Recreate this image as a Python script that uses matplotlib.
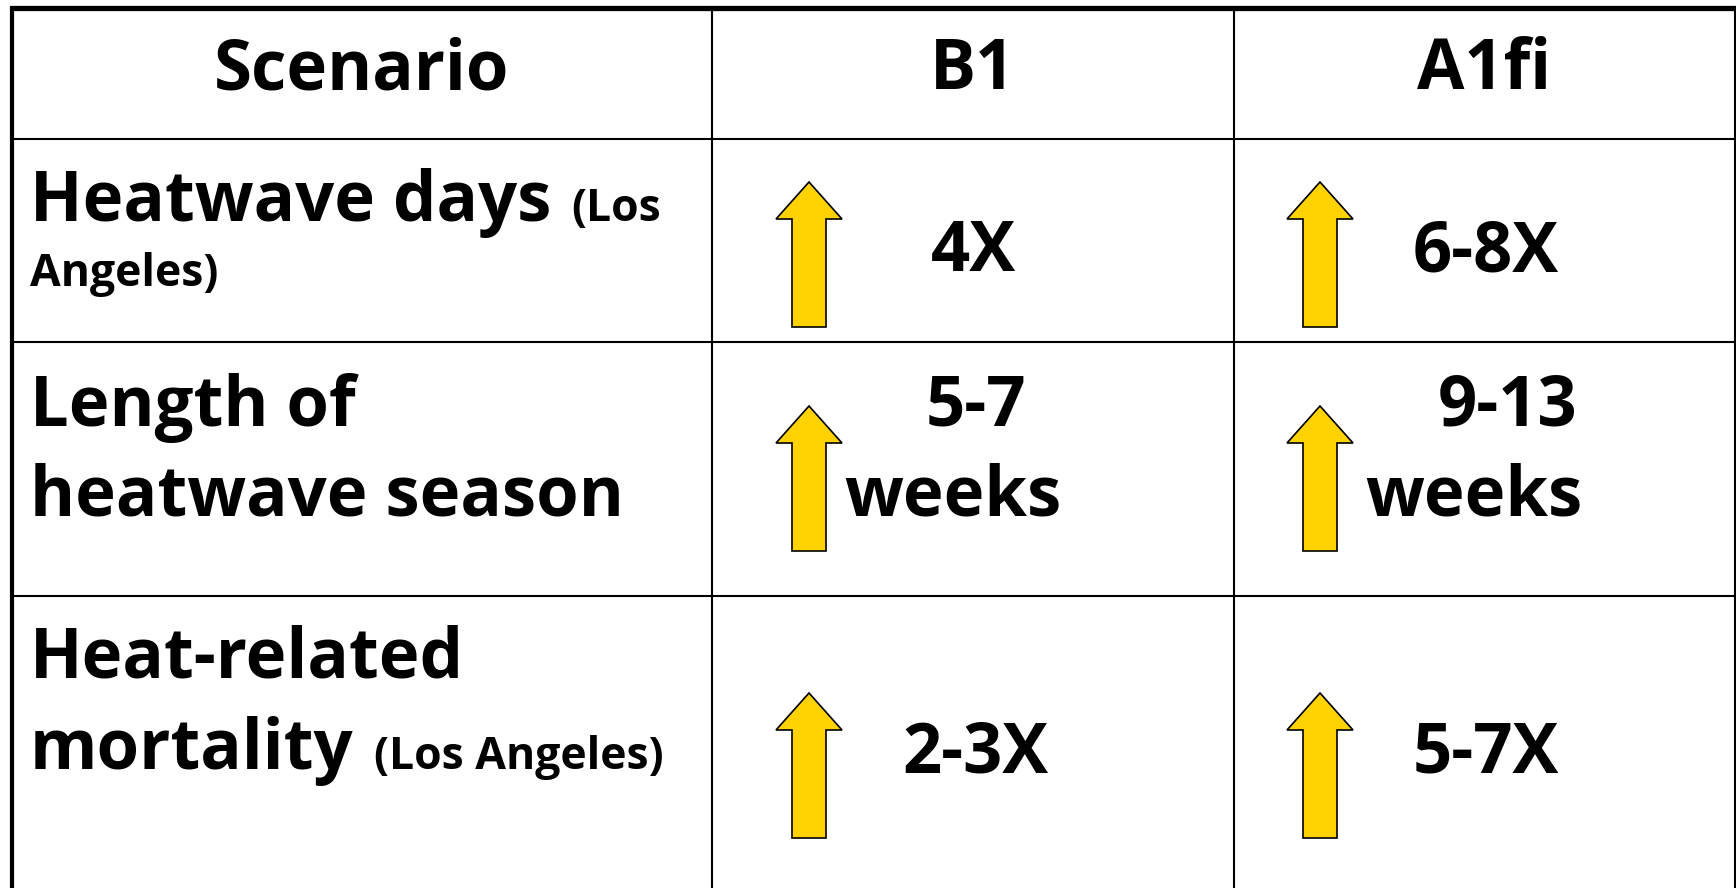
import matplotlib
matplotlib.use("Agg")
import matplotlib.pyplot as plt
from matplotlib.patches import Polygon

plt.rcParams['font.family'] = ['Open Sans', 'DejaVu Sans']
plt.rcParams['font.weight'] = 'bold'

# table content
header = ['Scenario', 'B1', 'A1fi']
row_labels = [
    [('Heatwave days', '(Los'), ('', 'Angeles)')],
    [('Length of', ''), ('heatwave season', '')],
    [('Heat-related', ''), ('mortality', '(Los Angeles)')],
]
b1_values = [['4X'], ['5-7', 'weeks'], ['2-3X']]
a1fi_values = [['6-8X'], ['9-13', 'weeks'], ['5-7X']]
trend_up = [True, True, True]

# layout in pixels (figure is 1736 x 888)
W, H = 1736, 888
col_edges = [12, 712, 1234, W - 2]
row_edges = [8, 139, 342, 596]
header_base = 89
label_bases = [[221, 286], [426, 515], [677, 769]]
value_bases = [[271], [425, 515], [772]]
value_dx = {'B1': [[0], [3, -20], [2]], 'A1fi': [[2], [24, -10], [2]]}
arrow_tips = [182, 406, 693]
arrow_len = 145
big, small = 49.5, 32

fig = plt.figure(figsize=(W / 100, H / 100), dpi=100)
ax = fig.add_axes([0, 0, 1, 1])
ax.set_xlim(0, W)
ax.set_ylim(H, 0)
ax.axis('off')

# grid lines
for y in row_edges[1:]:
    ax.plot([col_edges[0], W], [y, y], color='black', lw=1.5, solid_capstyle='butt')
for x in col_edges[1:3]:
    ax.plot([x, x], [row_edges[0], H], color='black', lw=1.5, solid_capstyle='butt')
ax.plot([W - 1.5, W - 1.5], [row_edges[0], H], color='black', lw=1.5)
ax.plot([col_edges[0] - 2, W], [row_edges[0], row_edges[0]], color='black', lw=3.8,
        solid_capstyle='butt')
ax.plot([col_edges[0], col_edges[0]], [row_edges[0] - 2, H], color='black', lw=3.0,
        solid_capstyle='butt')

centers = [(col_edges[i] + col_edges[i + 1]) / 2 for i in range(3)]
for name, cx in zip(header, centers):
    ax.text(cx, header_base, name, ha='center', va='baseline', fontsize=big)

# row labels, with the smaller note after the big words
fig.canvas.draw()
renderer = fig.canvas.get_renderer()
inv = ax.transData.inverted()
for r, lines in enumerate(row_labels):
    for k, (main, note) in enumerate(lines):
        y = label_bases[r][k]
        x_note = 30
        if main:
            t = ax.text(30, y, main, ha='left', va='baseline', fontsize=big)
            bb = t.get_window_extent(renderer)
            x_note = inv.transform((bb.x1, bb.y0))[0] + 20
        if note:
            ax.text(x_note, y, note, ha='left', va='baseline', fontsize=small)


def up_arrow(cx, tip):
    hw, sw, hh = 33, 17, 37
    bottom = tip + arrow_len
    pts = [(cx, tip), (cx + hw, tip + hh), (cx + sw, tip + hh), (cx + sw, bottom),
           (cx - sw, bottom), (cx - sw, tip + hh), (cx - hw, tip + hh)]
    ax.add_patch(Polygon(pts, closed=True, facecolor='#FFD200', edgecolor='black',
                         lw=1.2, zorder=3))


for col, values, key in [(1, b1_values, 'B1'), (2, a1fi_values, 'A1fi')]:
    cx = centers[col]
    for r, lines in enumerate(values):
        if trend_up[r]:
            up_arrow(cx - 164, arrow_tips[r])
        for k, line in enumerate(lines):
            ax.text(cx + value_dx[key][r][k], value_bases[r][k], line,
                    ha='center', va='baseline', fontsize=big)

fig.savefig('out.png', dpi=100, facecolor='white')
